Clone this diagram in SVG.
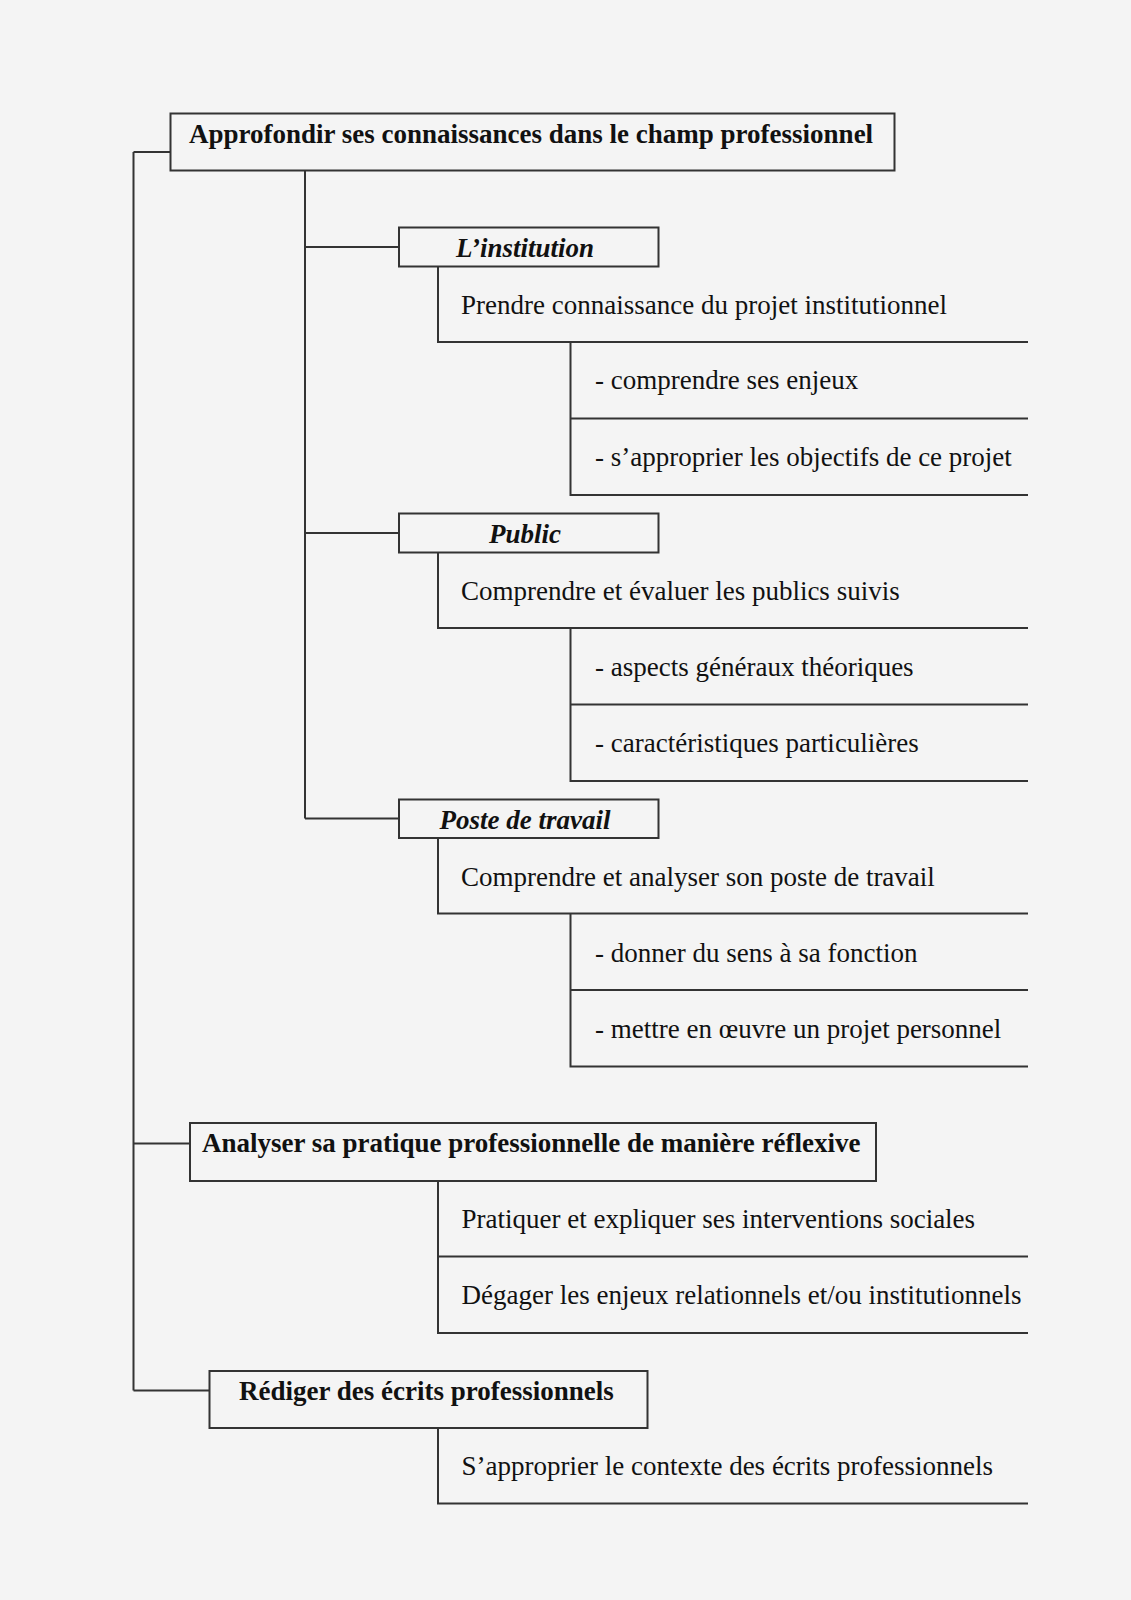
<svg xmlns="http://www.w3.org/2000/svg" width="1131" height="1600" viewBox="0 0 1131 1600">
<style>
.bg{fill:#f4f4f4}
.box{fill:none;stroke:#333;stroke-width:2}
.ln{fill:none;stroke:#333;stroke-width:2}
.t{font-family:"Liberation Serif","Times New Roman",serif;font-size:27px;fill:#111}
.b{font-weight:bold}
.bi{font-weight:bold;font-style:italic}
.m{text-anchor:middle}
</style>
<rect class="bg" x="0" y="0" width="1131" height="1600"/>
<g id="connectors">
<path class="ln" d="M133.5,152 V1390.5 M133.5,152 H170.5 M133.5,1143.5 H190 M133.5,1390.5 H209.5"/>
<path class="ln" d="M305,170.5 V818.5 M305,247 H399 M305,533 H399 M305,818.5 H399"/>
<path class="ln" d="M438,266.5 V342 H1028 M570.5,342 V495 H1028 M570.5,418.5 H1028"/>
<path class="ln" d="M438,552.5 V628 H1028 M570.5,628 V781 H1028 M570.5,704.5 H1028"/>
<path class="ln" d="M438,838 V913.5 H1028 M570.5,913.5 V1066.5 H1028 M570.5,990 H1028"/>
<path class="ln" d="M438,1181 V1333 H1028 M438,1256.5 H1028"/>
<path class="ln" d="M438,1428 V1503.5 H1028"/>
</g>
<g id="n-approfondir">
<rect class="box" x="170.5" y="113.5" width="724" height="57"/>
<text class="t b" x="189" y="143">Approfondir ses connaissances dans le champ professionnel</text>
</g>
<g id="n-institution">
<rect class="box" x="399" y="227.5" width="259.5" height="39"/>
<text class="t bi m" x="525" y="256.5">L’institution</text>
</g>
<g id="n-prendre"><text class="t" x="461" y="313.5">Prendre connaissance du projet institutionnel</text></g>
<g id="n-enjeux"><text class="t" x="595" y="389">- comprendre ses enjeux</text></g>
<g id="n-objectifs"><text class="t" x="595" y="466">- s’approprier les objectifs de ce projet</text></g>
<g id="n-public">
<rect class="box" x="399" y="513.5" width="259.5" height="39"/>
<text class="t bi m" x="525" y="542.5">Public</text>
</g>
<g id="n-evaluer"><text class="t" x="461" y="599.5">Comprendre et évaluer les publics suivis</text></g>
<g id="n-aspects"><text class="t" x="595" y="675.5">- aspects généraux théoriques</text></g>
<g id="n-caract"><text class="t" x="595" y="752">- caractéristiques particulières</text></g>
<g id="n-poste">
<rect class="box" x="399" y="799.5" width="259.5" height="38.5"/>
<text class="t bi m" x="525" y="828.5">Poste de travail</text>
</g>
<g id="n-analyser-poste"><text class="t" x="461" y="885.5">Comprendre et analyser son poste de travail</text></g>
<g id="n-sens"><text class="t" x="595" y="961.5">- donner du sens à sa fonction</text></g>
<g id="n-oeuvre"><text class="t" x="595" y="1038">- mettre en œuvre un projet personnel</text></g>
<g id="n-analyser">
<rect class="box" x="190" y="1123" width="686" height="58"/>
<text class="t b" x="202" y="1152">Analyser sa pratique professionnelle de manière réflexive</text>
</g>
<g id="n-pratiquer"><text class="t" x="461.5" y="1227.5">Pratiquer et expliquer ses interventions sociales</text></g>
<g id="n-degager"><text class="t" x="461.5" y="1304">Dégager les enjeux relationnels et/ou institutionnels</text></g>
<g id="n-rediger">
<rect class="box" x="209.5" y="1371" width="438" height="57"/>
<text class="t b" x="239" y="1400">Rédiger des écrits professionnels</text>
</g>
<g id="n-contexte"><text class="t" x="461.5" y="1474.5">S’approprier le contexte des écrits professionnels</text></g>
</svg>
